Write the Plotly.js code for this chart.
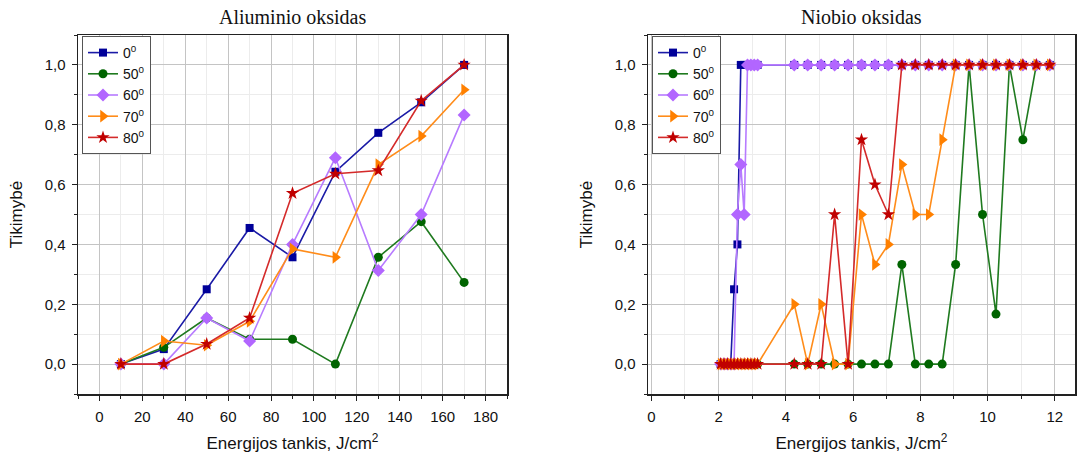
<!DOCTYPE html>
<html>
<head>
<meta charset="utf-8">
<script src="https://cdn.plot.ly/plotly-3.0.1.min.js"></script>
<style>html,body{margin:0;padding:0;background:#fff;}#chart{width:1086px;height:454px;}</style>
</head>
<body>
<div id="chart"></div>
<script>
// ---- Data: Aliuminio oksidas ----
const alX = [10, 30, 50, 70, 90, 110, 130, 150, 170];
const al0  = [0, 0.05, 0.25, 0.455, 0.357, 0.643, 0.773, 0.875, 1.0];
const al50 = [0, 0.056, 0.154, 0.083, 0.083, 0, 0.357, 0.476, 0.273];
const al60 = [0, 0, 0.154, 0.077, 0.4, 0.69, 0.313, 0.5, 0.833];
const al70 = [0, 0.077, 0.063, 0.143, 0.385, 0.357, 0.667, 0.762, 0.917];
const al80 = [0, 0, 0.067, 0.154, 0.571, 0.636, 0.647, 0.88, 1.0];

// ---- Data: Niobio oksidas ----
const nbX = [2.06, 2.16, 2.26, 2.36, 2.46, 2.56, 2.66, 2.76, 2.86, 2.96, 3.06, 3.16,
             4.25, 4.65, 5.05, 5.45, 5.85, 6.25, 6.65, 7.05, 7.45, 7.85,
             8.25, 8.65, 9.05, 9.45, 9.85, 10.25, 10.65, 11.05, 11.45, 11.85];
const nb0  = [0, 0, 0, 0, 0.25, 0.4, 1, 1, 1, 1, 1, 1,
              1, 1, 1, 1, 1, 1, 1, 1, 1, 1, 1, 1, 1, 1, 1, 1, 1, 1, 1, 1];
const nb50 = [0, 0, 0, 0, 0, 0, 0, 0, 0, 0, 0, 0,
              0, 0, 0, 0, 0, 0, 0, 0, 0.333, 0, 0, 0, 0.333, 1, 0.5, 0.167, 1, 0.75, 1, 1];
const nb60 = [0, 0, 0, 0, 0, 0.5, 0.667, 0.5, 1, 1, 1, 1,
              1, 1, 1, 1, 1, 1, 1, 1, 1, 1, 1, 1, 1, 1, 1, 1, 1, 1, 1, 1];
const nb70 = [0, 0, 0, 0, 0, 0, 0, 0, 0, 0, 0, 0,
              0.2, 0, 0.2, 0, 0, 0.5, 0.333, 0.4, 0.667, 0.5, 0.5, 0.75, 1, 1, 1, 1, 1, 1, 1, 1];
const nb80 = [0, 0, 0, 0, 0, 0, 0, 0, 0, 0, 0, 0,
              0, 0, 0, 0.5, 0, 0.75, 0.6, 0.5, 1, 1, 1, 1, 1, 1, 1, 1, 1, 1, 1, 1];

const seriesNames = ['0<sup>0</sup>', '50<sup>0</sup>', '60<sup>0</sup>', '70<sup>0</sup>', '80<sup>0</sup>'];
const lineColors = ['#1a1aa6', '#1f7a1f', '#b77bff', '#ff8c1a', '#d42a2a'];
const markerColors = ['#000099', '#006400', '#b266ff', '#ff8000', '#c00000'];
const symbols = ['square', 'circle', 'diamond', 'triangle-right', 'star'];
const msizes = [8, 9, 10, 11, 10];

const alY = [al0, al50, al60, al70, al80];
const nbY = [nb0, nb50, nb60, nb70, nb80];

const traces = [];
alY.forEach((ys, i) => {
  traces.push({
    x: alX, y: ys, type: 'scatter', mode: 'lines+markers', name: seriesNames[i],
    xaxis: 'x', yaxis: 'y', legend: 'legend',
    line: {color: lineColors[i], width: 1.6},
    marker: {symbol: symbols[i], size: msizes[i], color: markerColors[i], line: {width: 0}}
  });
});
nbY.forEach((ys, i) => {
  traces.push({
    x: nbX, y: ys, type: 'scatter', mode: 'lines+markers', name: seriesNames[i],
    xaxis: 'x2', yaxis: 'y2', legend: 'legend2',
    line: {color: lineColors[i], width: 1.6},
    marker: {symbol: symbols[i], size: msizes[i], color: markerColors[i], line: {width: 0}}
  });
});

const tickFont = {family: 'Liberation Sans, Arial, sans-serif', size: 15, color: '#111'};
const titleFont = {family: 'Liberation Sans, Arial, sans-serif', size: 17, color: '#111'};

function xAx(domain, range, dtick, anchor) {
  return {
    domain: domain, range: range, anchor: anchor, dtick: dtick, tick0: 0,
    showline: true, linecolor: '#222', linewidth: 1.5, mirror: true,
    showgrid: true, gridcolor: '#c4c4c4', gridwidth: 1, zeroline: false,
    ticks: 'outside', ticklen: 5, tickcolor: '#222', tickwidth: 1,
    tickfont: tickFont, ticklabelstandoff: 3,
    minor: {dtick: dtick / 2, showgrid: true, gridcolor: '#ececec', gridwidth: 1, ticks: 'outside', ticklen: 3, tickcolor: '#222'},
    title: {text: 'Energijos tankis, J/cm<sup>2</sup>', font: titleFont, standoff: 13},
    fixedrange: true
  };
}
function yAx(domain, anchor) {
  return {
    domain: domain, range: [-0.1, 1.1], anchor: anchor, dtick: 0.2, tick0: 0,
    tickformat: '.1f',
    showline: true, linecolor: '#222', linewidth: 1.5, mirror: true,
    showgrid: true, gridcolor: '#c4c4c4', gridwidth: 1, zeroline: false,
    ticks: 'outside', ticklen: 5, tickcolor: '#222', tickwidth: 1,
    tickfont: tickFont, ticklabelstandoff: 3,
    minor: {dtick: 0.1, showgrid: true, gridcolor: '#ececec', gridwidth: 1, ticks: 'outside', ticklen: 3, tickcolor: '#222'},
    title: {text: 'Tikimybė', font: titleFont, standoff: 17},
    fixedrange: true
  };
}

const yDom = [1 - 394 / 454, 1 - 35 / 454];
const xDom1 = [78 / 1086, 507 / 1086];
const xDom2 = [648 / 1086, 1075 / 1086];

const legendBase = {
  yanchor: 'top', xanchor: 'left', y: 1 - 36 / 454,
  bgcolor: '#ffffff', bordercolor: '#555', borderwidth: 1,
  font: {family: 'Liberation Sans, Arial, sans-serif', size: 14, color: '#111'},
  tracegroupgap: 0, itemwidth: 30
};

const layout = {
  width: 1086, height: 454,
  margin: {l: 0, r: 0, t: 0, b: 0},
  paper_bgcolor: '#ffffff', plot_bgcolor: '#ffffff',
  separators: ',.',
  showlegend: true,
  xaxis: xAx(xDom1, [-10, 190], 20, 'y'),
  yaxis: yAx(yDom, 'x'),
  xaxis2: xAx(xDom2, [-0.1, 12.6], 2, 'y2'),
  yaxis2: yAx(yDom, 'x2'),
  legend: Object.assign({}, legendBase, {x: 82 / 1086}),
  legend2: Object.assign({}, legendBase, {x: 652 / 1086}),
  annotations: [
    {text: 'Aliuminio oksidas', xref: 'paper', yref: 'paper', x: (xDom1[0] + xDom1[1]) / 2, y: 1 - 17 / 454,
     xanchor: 'center', yanchor: 'middle', showarrow: false,
     font: {family: 'Liberation Serif, Times New Roman, serif', size: 20, color: '#111'}},
    {text: 'Niobio oksidas', xref: 'paper', yref: 'paper', x: (xDom2[0] + xDom2[1]) / 2, y: 1 - 17 / 454,
     xanchor: 'center', yanchor: 'middle', showarrow: false,
     font: {family: 'Liberation Serif, Times New Roman, serif', size: 20, color: '#111'}}
  ]
};

Plotly.newPlot('chart', traces, layout, {staticPlot: true, displayModeBar: false});
</script>
</body>
</html>
